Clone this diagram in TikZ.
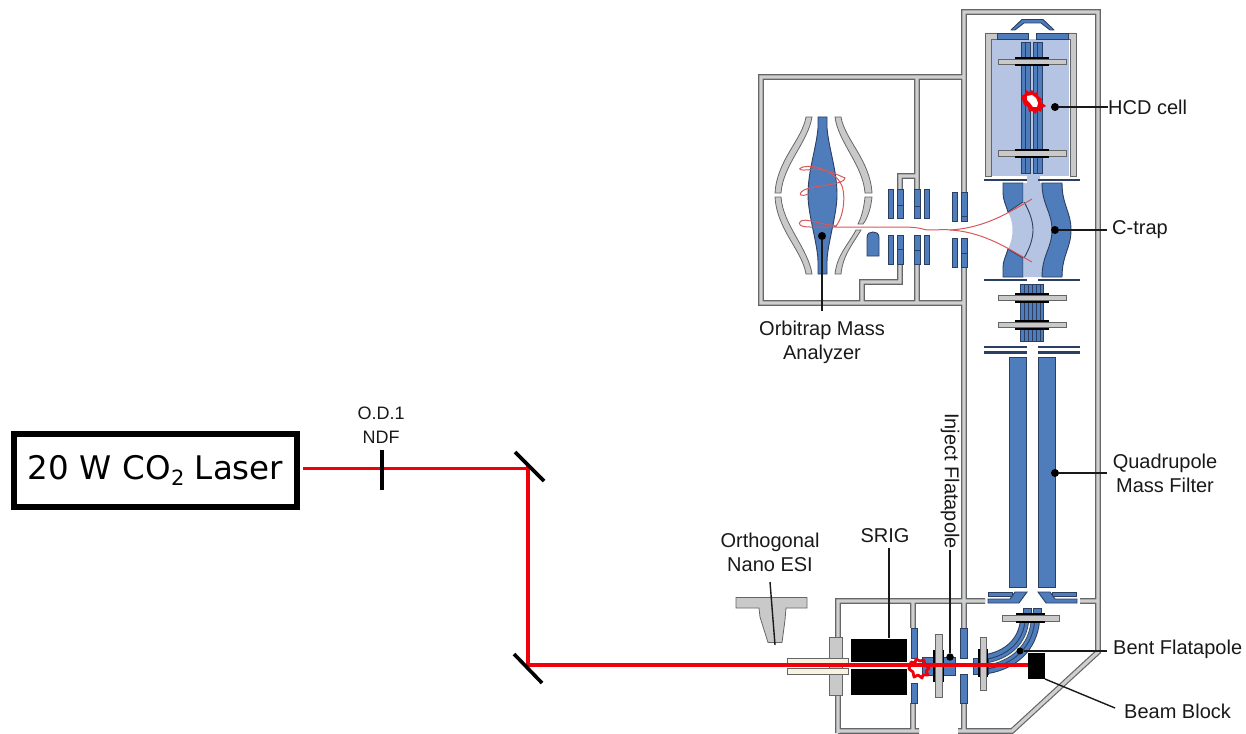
\documentclass[tikz,border=0pt]{standalone}
\usepackage{fontspec}
\setmainfont{Liberation Sans}
\newfontfamily\laserfont{DejaVu Sans}
\definecolor{bluef}{HTML}{4F7CBA}
\definecolor{bluel}{HTML}{B5C4E3}
\definecolor{blued}{HTML}{2B3F63}
\definecolor{wallo}{HTML}{646668}
\definecolor{walli}{HTML}{CFCFCF}
\definecolor{barg}{HTML}{C9C9C9}
\definecolor{creamf}{HTML}{F7F3DF}
\definecolor{beam}{HTML}{F00008}
\definecolor{trjc}{HTML}{D9575A}
\tikzset{
 bl/.style={fill=bluef,draw=blued,line width=.9},
 lightb/.style={fill=bluel,draw=none},
 plate/.style={draw=blued,line width=2.8},
 gbar/.style={fill=barg,draw=wallo,line width=.9},
 blk/.style={fill=black,draw=none},
 elec/.style={fill=barg,draw=wallo,line width=.8},
 lab/.style={font=\fontsize{20}{24}\selectfont,align=center,inner sep=0pt,text=black!90},
 leader/.style={draw=black!90,line width=1.4},
 dot/.style={circle,fill=black,inner sep=0pt,minimum size=8pt},
 trj/.style={draw=trjc,line width=1},
 beamline/.style={draw=beam,line width=3.4},
 mirror/.style={draw=black,line width=3.6},
}
\newcommand\wallpaths{
 (964,192)--(964,12)--(1098,12)--(1098,652)--(1012,731)--(958,731)
 (964,267)--(964,628) (964,703)--(964,731)
 (964,77)--(761,77)--(761,303)--(964,303)
 (917,77)--(917,190) (917,176)--(900,176)--(900,190)
 (900,264)--(900,282)--(862,282)--(862,303)
 (917,264)--(917,303)
 (964,601)--(985,601) (1080,601)--(1098,601)
 (964,601)--(838,601)--(838,637) (838,695)--(838,733)
 (838,731)--(919,731)
 (913,601)--(913,628) (913,703)--(913,731)
}
\begin{document}
\begin{tikzpicture}[x=1pt,y=-1pt]
\useasboundingbox (0,0) rectangle (1246,733);
% walls
\draw[line width=5.6,wallo,line join=miter] \wallpaths;
\draw[line width=3.2,walli,line join=miter] \wallpaths;
%% HCD cell
\fill[lightb] (992,39) rectangle (1069,176);
\fill[lightb] (1027,176) rectangle (1040,190);
\fill[elec] (985,33) -- (997,33) -- (997,39) -- (991,39) -- (991,176) -- (985,176) -- cycle;
\fill[elec] (1076,33) -- (1068,33) -- (1068,39) -- (1070,39) -- (1070,176) -- (1076,176) -- cycle;
\draw[bl] (997,33) rectangle (1028,39);
\draw[bl] (1036,33) rectangle (1068,39);
\draw[bl,line join=round] (1011,30) -- (1022,19.5) -- (1043,19.5) -- (1054,30) -- (1050,30) -- (1041,23) -- (1024,23) -- (1015,30) -- cycle;
\foreach \x in {1021,1033}{
 \draw[bl] (\x,42) rectangle (\x+9,173);
 \draw[blued,line width=.9] (\x+4.5,42) -- (\x+4.5,173);
}
\foreach \y in {59,150.5}{
 \draw[gbar] (998,\y) rectangle (1066,\y+5.5);
 \fill[blk] (1015,\y-2) rectangle (1049,\y);
 \fill[blk] (1015,\y+5.5) rectangle (1049,\y+7.5);
}
\draw[plate] (984,180) -- (1027,180);
\draw[plate] (1038,180) -- (1080,180);
% HCD spark
\fill[beam] (1021,96) -- (1025,94) -- (1026,90) -- (1029,92) -- (1032,90) -- (1034,93) -- (1038,92) -- (1038,96) -- (1042,99) -- (1041,102) -- (1046,106) -- (1042,108) -- (1041,112) -- (1037,110) -- (1036,114) -- (1032,111) -- (1029,112) -- (1028,107) -- (1024,105) -- cycle;
\fill[white] (1027,96) -- (1032,95) -- (1036,98) -- (1038,103) -- (1037,107) -- (1033,107) -- (1030,103) -- (1027,100) -- cycle;
%% C-trap
\fill[lightb] (1008,212) -- (1024,202) -- (1024,183) -- (1042,183)
 .. controls (1042,205) and (1052,212) .. (1052,230)
 .. controls (1052,248) and (1042,255) .. (1042,277)
 -- (1024,277) -- (1024,258) -- (1008,249)
 .. controls (1014,238) and (1014,222) .. (1008,212) -- cycle;
\draw[bl] (1003,183) -- (1023,183) -- (1023,202) -- (1008,212) .. controls (1006,205) and (1003,200) .. (1003,193) -- cycle;
\draw[bl] (1003,277) -- (1023,277) -- (1023,258) -- (1008,249) .. controls (1006,256) and (1003,261) .. (1003,267) -- cycle;
\draw[bl] (1042,183) -- (1062,183) .. controls (1062,205) and (1071,212) .. (1071,230)
 .. controls (1071,248) and (1062,255) .. (1062,277) -- (1042,277)
 .. controls (1042,255) and (1052,248) .. (1052,230)
 .. controls (1052,212) and (1042,205) .. (1042,183) -- cycle;
\draw[blued,line width=.9] (1024,202) .. controls (1030,212) and (1033,222) .. (1033,230) .. controls (1033,238) and (1030,248) .. (1024,258);
\draw[plate] (984,280) -- (1027,280);
\draw[plate] (1038,280) -- (1080,280);
\draw[trj] (950,230) .. controls (985,228) and (1010,212) .. (1032,199);
\draw[trj] (950,230) .. controls (985,232) and (1010,250) .. (1032,262);
%% rods below C-trap
\draw[bl] (1020,284) rectangle (1043,341);
\foreach \x in {1024,1028,1032,1036,1040}{
 \draw[blued,line width=.8] (\x,284) -- (\x,341);
}
\foreach \y in {295,322}{
 \draw[gbar] (998,\y) rectangle (1066,\y+5.5);
 \fill[blk] (1015,\y-2.2) rectangle (1049,\y);
 \fill[blk] (1015,\y+5.5) rectangle (1049,\y+7.7);
}
\foreach \y in {347,352.5}{
 \draw[plate] (984,\y) -- (1027,\y);
 \draw[plate] (1038,\y) -- (1080,\y);
}
%% Quadrupole
\draw[bl] (1009,357) rectangle (1026,587);
\draw[bl] (1038,357) rectangle (1055,587);
\draw[bl] (988,592) rectangle (1012,596);
\draw[bl] (1052,592) rectangle (1076,596);
\draw[bl] (988,599) -- (1010,599) -- (1015,592) -- (1027,592) -- (1019,603) -- (988,603) -- cycle;
\draw[bl] (1077,599) -- (1055,599) -- (1050,592) -- (1038,592) -- (1046,603) -- (1077,603) -- cycle;
%% bent flatapole
\draw[bl] (1023,608) rectangle (1031,616);
\draw[bl] (1033,608) rectangle (1041,616);
\foreach \w/\c in {20/blued,18/bluef,10.5/blued,8.5/bluef,3/blued,1.5/creamf}{
 \draw[line width=\w,\c] (1030,620) .. controls (1028,645) and (1010,660) .. (987,664);
}
\draw[gbar] (1002,615) rectangle (1059,621);
\fill[blk] (1016,612.5) rectangle (1045,615);
\fill[blk] (1016,621) rectangle (1045,623);
\draw[bl] (973,658) rectangle (988,674);
\fill[blk] (977.5,649) rectangle (988,677);
\draw[gbar] (980,637) rectangle (986,690);
%% inject flatapole
\draw[bl] (922,657) rectangle (955,675);
\draw[blued,line width=.9] (922,666) -- (955,666);
\fill[blk] (933,650) rectangle (944,682);
\draw[gbar] (935,634) rectangle (942,697);
%% apertures in walls
\draw[bl] (911,628) rectangle (917,658);
\draw[bl] (911,683) rectangle (917,703);
\draw[bl] (960,628) rectangle (967,658);
\draw[bl] (960,674) rectangle (967,703);
%% SRIG
\fill[blk] (851,639) rectangle (907,662);
\fill[blk] (851,669) rectangle (907,695);
%% inlet
\draw[elec] (829,637) -- (842,637) -- (842,695) -- (829,695) -- cycle;
\draw[fill=creamf,draw=wallo,line width=.9] (787,658) rectangle (848,663);
\draw[fill=creamf,draw=wallo,line width=.9] (787,668.5) rectangle (848,674);
%% ESI emitter
\draw[elec] (736,597.5) -- (807,597.5) -- (807,608) -- (786,608) -- (785,620) -- (782,642.5) -- (768,642.5) -- (760,617) -- (759,608) -- (736,608) -- cycle;
%% Orbitrap
\path[bl] (818,117) -- (827,117) -- (827,128) .. controls (829,150) and (837,170) .. (837,195)
 .. controls (837,215) and (827,245) .. (827,262) -- (827,274) -- (818,274) -- (818,262)
 .. controls (818,245) and (808,215) .. (808,195) .. controls (808,170) and (816,150) .. (818,128) -- cycle;
\draw[elec] (806,117) -- (812,117) .. controls (808,142) and (783,165) .. (781,193) -- (775,193) .. controls (777,160) and (802,140) .. (806,117) -- cycle;
\draw[elec] (775,197) -- (781,197) .. controls (783,225) and (808,248) .. (812,274) -- (806,274) .. controls (802,250) and (777,230) .. (775,197) -- cycle;
\draw[elec] (835,117) -- (841,117) .. controls (845,140) and (870,160) .. (872,193) -- (865,193) .. controls (863,165) and (838,142) .. (835,117) -- cycle;
\draw[elec] (865,197) -- (872,197) .. controls (871,207) and (868,218) .. (863,224) -- (858,224) .. controls (862,216) and (864,207) .. (865,197) -- cycle;
\draw[elec] (856,230) -- (861,230) .. controls (852,245) and (843,255) .. (841,274) -- (835,274) .. controls (837,255) and (848,245) .. (856,230) -- cycle;
\draw[bl] (867,256) -- (867,238) .. controls (867,233) and (870,232) .. (873,232) .. controls (876,232) and (879,233) .. (879,238) -- (879,256) -- cycle;
\foreach \x/\w in {888/5,897/6,914/6,924/5}{
 \draw[bl] (\x,189) rectangle (\x+\w,218);
 \draw[bl] (\x,235) rectangle (\x+\w,264);
}
\foreach \x/\w in {952/5,961/6}{
 \draw[bl] (\x,192) rectangle (\x+\w,221);
 \draw[bl] (\x,238) rectangle (\x+\w,267);
}
\draw[blued,line width=.8] (897,205) -- (903,205) (914,206) -- (920,206) (961,216) -- (967,216) (897,249) -- (903,249) (914,250) -- (920,250) (961,253) -- (967,253);
%% ion path
\draw[trj] (950,230) .. controls (945,229) and (940,230) .. (930,230) .. controls (920,230) and (925,227) .. (900,227) -- (810,227)
 .. controls (800,227) and (797,224) .. (801,221) .. controls (805,218) and (820,224) .. (836,226)
 .. controls (845,215) and (846,190) .. (840,182) .. controls (834,172) and (815,164) .. (803,167)
 .. controls (795,170) and (802,171) .. (815,169) .. controls (830,170) and (842,177) .. (845,178)
 .. controls (845,185) and (815,185) .. (804,190) .. controls (796,195) and (802,197) .. (808,194);
%% connectors and beam
\node[draw=black,line width=6,minimum width=283pt,minimum height=73pt,inner sep=0pt,font=\laserfont\fontsize{32.5}{38}\selectfont] (laser) at (155.5,470) {20\,\,W\,\,CO\raisebox{-6pt}{\fontsize{21}{21}\selectfont 2} Laser};
\coordinate (bstart) at (303,468);
\coordinate (m1) at (528,468);
\coordinate (m2) at (528,665);
\coordinate (bend) at (1028,665);
\draw[beamline,line width=3] (bstart) -- (m1);
\draw[beamline,line cap=rect] (m1) -- (m2);
\draw[beamline,line width=4] (m2) -- (bend);
\coordinate (ndfa) at (382,450);
\coordinate (ndfb) at (382,490);
\draw[mirror] (ndfa) -- (ndfb);
\coordinate (m1a) at (515,452); \coordinate (m1b) at (544,481);
\coordinate (m2a) at (514,654); \coordinate (m2b) at (542,683);
\draw[mirror] (m1a) -- (m1b);
\draw[mirror] (m2a) -- (m2b);
% SRIG spark
\draw[beam,line width=2.8,line join=round] (911,662) -- (915,663) -- (916,659) -- (920,661) -- (924,660) -- (925,665) -- (929,668) -- (926,671) -- (928,675) -- (923,675) -- (922,678) -- (918,675) -- (914,677) -- (913,672) -- (909,669) -- cycle;
\fill[blk] (1028,653) rectangle (1045,679);
\coordinate (blockc) at (1045,679);
%% labels
\node[lab,anchor=west] (hcdl) at (1108,107) {HCD cell};
\node[lab,anchor=west] (ctrapl) at (1112,230) {C-trap};
\node[lab] (quadl) at (1165,473) {Quadrupole\\Mass Filter};
\node[lab] (orbl) at (822,342) {Orbitrap Mass\\Analyzer};
\node[lab,font=\fontsize{18}{24}\selectfont] (ndfl) at (381,425) {O.D.1\\NDF};
\node[lab] (esil) at (770,552) {Orthogonal\\Nano ESI};
\node[lab] (srigl) at (885,536) {SRIG};
\node[lab,rotate=-90] (injl) at (950,481) {Inject Flatapole};
\node[lab,anchor=west] (bentl) at (1113,649) {Bent Flatapole};
\node[lab,anchor=west] (blockl) at (1124,711) {Beam Block};
%% leaders
\node[dot] (d1) at (1055,107) {};
\node[dot] (d2) at (1055,230) {};
\node[dot] (d3) at (1055,473) {};
\node[dot] (d4) at (822,236) {};
\node[dot,minimum size=7.5pt] (d5) at (950,657) {};
\node[dot,minimum size=7pt] (d6) at (1020,651) {};
\draw[leader] (d1) -- (hcdl.west);
\draw[leader] (d2) -- (1107,230);
\draw[leader] (d3) -- (1107,473);
\draw[leader] (d4) -- (822,311);
\draw[leader] (d5) -- (950,550);
\draw[leader] (d6) -- (1107,651);
\draw[leader] (889,548) -- (889,638);
\draw[leader] (770,582) -- (775,645);
\draw[leader] (blockc) -- (1115,708);
\end{tikzpicture}
\end{document}
